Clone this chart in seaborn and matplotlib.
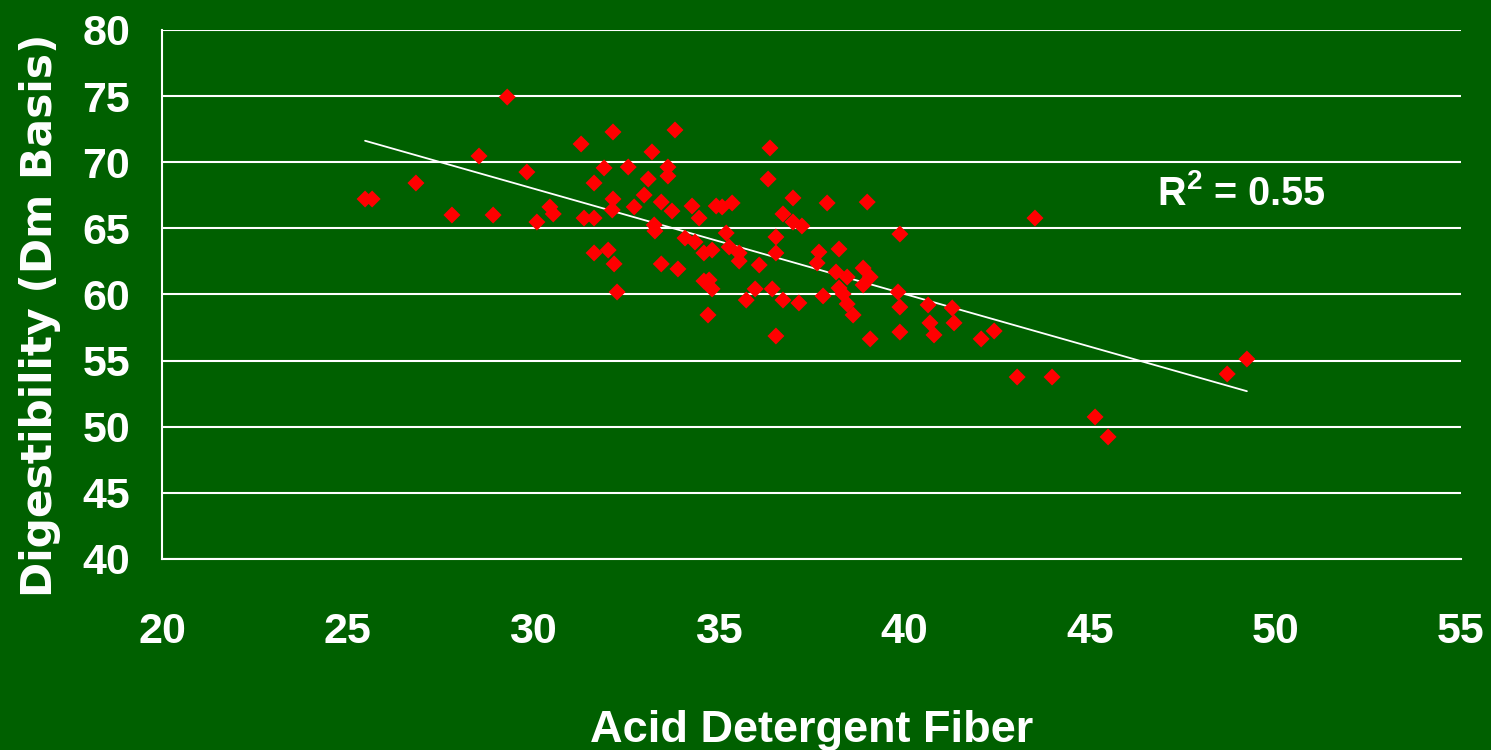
import matplotlib
matplotlib.use("Agg")
import matplotlib.pyplot as plt
import numpy as np
import pandas as pd
import seaborn as sns

# Acid detergent fiber vs. digestibility
adf = [25.47, 25.66, 26.84, 27.81, 28.54, 28.92, 29.30, 29.83, 30.10, 30.45,
       30.54, 31.29, 31.37, 31.64, 31.64, 31.64, 31.91, 32.02, 32.15, 32.15,
       32.13, 32.18, 32.26, 32.56, 32.72, 32.99, 33.10, 33.20, 33.26, 33.28,
       33.45, 33.45, 33.63, 33.63, 33.74, 33.82, 33.90, 34.09, 34.28, 34.36,
       34.47, 34.60, 34.60, 34.74, 34.82, 34.82, 34.71, 34.93, 35.09, 35.20,
       35.28, 35.36, 35.55, 35.55, 35.74, 35.98, 36.09, 36.33, 36.38, 36.44,
       36.54, 36.54, 36.54, 36.73, 36.73, 37.00, 37.00, 37.16, 37.24, 37.65,
       37.70, 37.81, 37.92, 38.16, 38.24, 38.24, 38.35, 38.46, 38.46, 38.62,
       38.89, 38.89, 39.00, 39.08, 39.08, 39.83, 39.88, 39.88, 39.88, 40.64,
       40.69, 40.80, 41.29, 41.34, 42.07, 42.42, 43.04, 43.52, 43.98, 45.14,
       45.49, 48.70, 49.23]
digestibility = [67.22, 67.22, 68.43, 66.01, 70.47, 66.01, 74.93, 69.26, 65.48, 66.62,
                 66.09, 71.38, 65.78, 68.43, 65.78, 63.14, 69.57, 63.36, 72.29, 67.22,
                 66.39, 62.31, 60.19, 69.64, 66.62, 67.52, 68.73, 70.78, 65.26, 64.80,
                 66.99, 62.31, 69.64, 68.96, 66.31, 72.44, 61.93, 64.27, 66.69, 63.97,
                 65.78, 63.14, 61.02, 61.10, 63.36, 60.42, 58.45, 66.69, 66.62, 64.65,
                 63.59, 66.92, 63.14, 62.53, 59.58, 60.42, 62.23, 68.73, 71.08, 60.42,
                 64.35, 63.14, 56.86, 66.09, 59.58, 67.30, 65.48, 59.36, 65.18, 62.38,
                 63.21, 59.89, 66.92, 61.70, 63.44, 60.49, 60.04, 61.32, 59.28, 58.45,
                 62.00, 60.72, 66.99, 61.32, 56.64, 60.19, 64.57, 59.05, 57.16, 59.21,
                 57.85, 56.94, 58.98, 57.85, 56.64, 57.24, 53.76, 65.78, 53.76, 50.74,
                 49.23, 53.99, 55.12]

x_ticks = [20, 25, 30, 35, 40, 45, 50, 55]
y_ticks = [40, 45, 50, 55, 60, 65, 70, 75, 80]
r2_label = r"R$^{\mathbf{2}}$ = 0.55"

BG = "#006000"

sns.set_style("white")
plt.rcParams["font.family"] = ["Liberation Sans", "DejaVu Sans"]
plt.rcParams["font.weight"] = "bold"
plt.rcParams["mathtext.fontset"] = "custom"
plt.rcParams["mathtext.rm"] = "Liberation Sans:bold"
plt.rcParams["mathtext.bf"] = "Liberation Sans:bold"

df = pd.DataFrame({"ADF": adf, "Digestibility": digestibility})

fig = plt.figure(figsize=(14.91, 7.5), dpi=100, facecolor=BG)
ax = fig.add_axes([0.1087, 0.2547, 0.9799 - 0.1087, 0.96 - 0.2547])
ax.set_facecolor(BG)

# trend line first so the points sit on top
sns.regplot(data=df, x="ADF", y="Digestibility", scatter=False, ci=None,
            line_kws={"color": "white", "linewidth": 1.3}, ax=ax)
sns.scatterplot(data=df, x="ADF", y="Digestibility", marker="D", s=75,
                color="#ff0000", edgecolor="none", ax=ax, zorder=3)

ax.set_xlim(20, 55)
ax.set_ylim(40, 80)
ax.set_xticks(x_ticks)
ax.set_yticks(y_ticks)

ax.yaxis.grid(True, color="white", linewidth=1.5)
ax.xaxis.grid(False)
ax.set_axisbelow(True)

for side in ["top", "right"]:
    ax.spines[side].set_visible(False)
for side in ["left", "bottom"]:
    ax.spines[side].set_color("white")
    ax.spines[side].set_linewidth(1.5)

ax.tick_params(axis="x", colors="white", direction="out", length=12, width=1.5,
               pad=26, labelsize=31)
ax.tick_params(axis="y", colors="white", direction="out", length=10, width=1.5,
               pad=13, labelsize=31)
for lbl in ax.get_xticklabels() + ax.get_yticklabels():
    lbl.set_fontweight("bold")

ax.set_xlabel("Acid Detergent Fiber", color="white", fontsize=32.5,
              fontweight="bold", labelpad=42)
ax.set_ylabel("Digestibility (Dm Basis)", color="white", fontsize=30.5,
              fontweight="bold", family=["DejaVu Sans"])
ax.yaxis.set_label_coords(-0.078, 0.461)

ax.text(46.81, 66.77, r2_label, color="white", fontsize=28.5, fontweight="bold",
        ha="left", va="baseline")

fig.savefig("out.png", dpi=100, facecolor=BG)
